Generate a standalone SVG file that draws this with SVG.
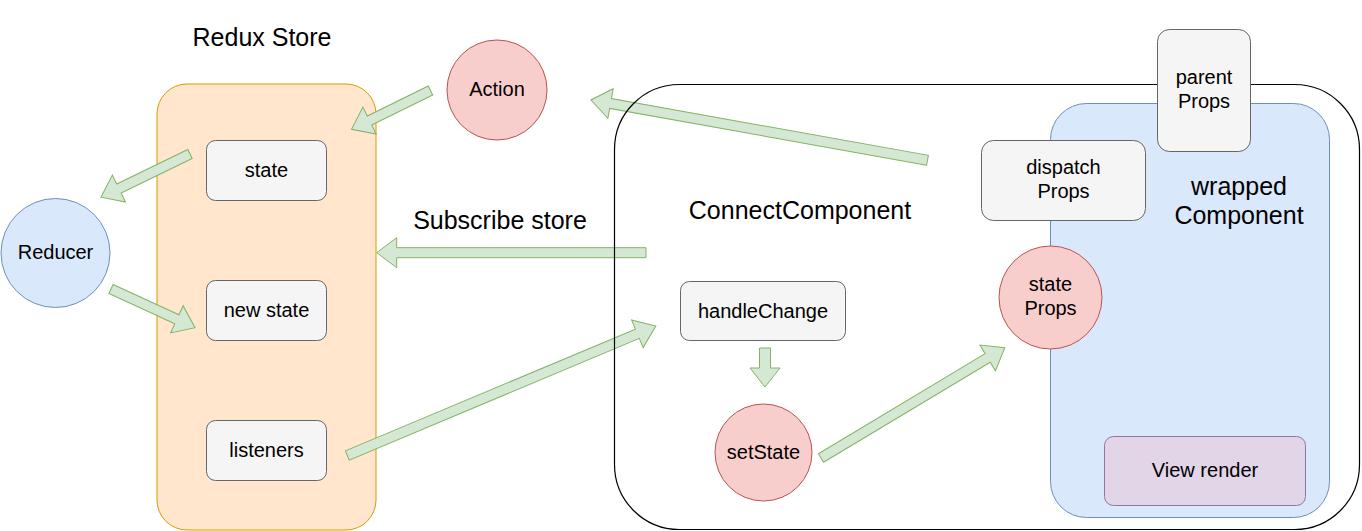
<svg xmlns="http://www.w3.org/2000/svg" width="1362" height="531" viewBox="0 0 1362 531">
<style>
text{font-family:"Liberation Sans",Arial,Helvetica,sans-serif;fill:#000;text-anchor:middle}
.t{font-size:20px}
.h{font-size:25px}
.box{fill:#f5f5f5;stroke:#666666;stroke-width:1}
.red{fill:#f8cecc;stroke:#b85450;stroke-width:1}
.blue{fill:#dae8fc;stroke:#6c8ebf;stroke-width:1}
.arr{fill:#d5e8d4;stroke:#82b366;stroke-width:1;stroke-linejoin:miter}
</style>
<rect width="1362" height="531" fill="#ffffff"/>
<g id="redux-store">
<rect x="157" y="84" width="219" height="446" rx="30" ry="30" fill="#ffe6cc" stroke="#d79b00" stroke-width="1"/>
<text class="h" x="262" y="46">Redux Store</text>
</g>
<g id="state"><rect class="box" x="206.5" y="140.5" width="120" height="60" rx="9"/><text class="t" x="266.5" y="177">state</text></g>
<g id="new-state"><rect class="box" x="206.5" y="280.5" width="120" height="60" rx="9"/><text class="t" x="266.5" y="317">new state</text></g>
<g id="listeners"><rect class="box" x="206.5" y="420.5" width="120" height="60" rx="9"/><text class="t" x="266.5" y="457">listeners</text></g>
<g id="reducer"><circle class="blue" cx="55.5" cy="253" r="54.5"/><text class="t" x="55.5" y="259">Reducer</text></g>
<g id="action"><circle class="red" cx="497" cy="90" r="50"/><text class="t" x="497" y="96">Action</text></g>
<g id="subscribe-label"><text class="h" x="500" y="229">Subscribe store</text></g>
<g id="connectors">
<path class="arr" transform="translate(430.5,90.5) rotate(153.8)" d="M0,-5 H68 V-15 L88,0 L68,15 V5 H0 Z"/>
<path class="arr" transform="translate(190,154) rotate(154.1)" d="M0,-5 H79 V-15 L99,0 L79,15 V5 H0 Z"/>
<path class="arr" transform="translate(111,289) rotate(24.7)" d="M0,-5 H72.5 V-15 L92.5,0 L72.5,15 V5 H0 Z"/>
<path class="arr" transform="translate(646,252.7) rotate(180)" d="M0,-5 H249.3 V-15 L269.3,0 L249.3,15 V5 H0 Z"/>
<path class="arr" transform="translate(927.5,160.3) rotate(-169.84)" d="M0,-5 H322 V-15 L342,0 L322,15 V5 H0 Z"/>
<path class="arr" transform="translate(347.3,455.5) rotate(-22.77)" d="M0,-5 H314.6 V-15 L334.6,0 L314.6,15 V5 H0 Z"/>
<path class="arr" transform="translate(765,348) rotate(90)" d="M0,-5.5 H20 V-15 L39,0 L20,15 V5.5 H0 Z"/>
<path class="arr" transform="translate(821,458) rotate(-30.97)" d="M0,-5 H194.4 V-15 L214.4,0 L194.4,15 V5 H0 Z"/>
</g>
<g id="connect-component">
<rect x="614.5" y="84.5" width="745" height="445" rx="65" ry="65" fill="none" stroke="#000000" stroke-width="1.2"/>
<text class="h" x="800" y="219">ConnectComponent</text>
</g>
<g id="wrapped-component">
<rect class="blue" x="1050.5" y="103.5" width="279" height="414" rx="36" ry="36"/>
<text class="h" x="1239" y="195">wrapped</text>
<text class="h" x="1239" y="224">Component</text>
</g>
<g id="parent-props"><rect class="box" x="1157.5" y="29.5" width="93" height="122" rx="12"/><text class="t" x="1204" y="84">parent</text><text class="t" x="1204" y="108">Props</text></g>
<g id="dispatch-props"><rect class="box" x="981.5" y="140.5" width="164" height="80" rx="12"/><text class="t" x="1063.5" y="174">dispatch</text><text class="t" x="1063.5" y="198">Props</text></g>
<g id="state-props"><circle class="red" cx="1050.5" cy="297.5" r="51.5"/><text class="t" x="1050.5" y="291">state</text><text class="t" x="1050.5" y="315">Props</text></g>
<g id="handle-change"><rect class="box" x="680.5" y="281.5" width="165" height="59" rx="9"/><text class="t" x="763" y="318">handleChange</text></g>
<g id="set-state"><circle class="red" cx="763.5" cy="452.5" r="48.5"/><text class="t" x="763.5" y="459">setState</text></g>
<g id="view-render"><rect x="1104.5" y="436.5" width="201" height="69" rx="9" fill="#e1d5e7" stroke="#9673a6" stroke-width="1"/><text class="t" x="1205" y="477">View render</text></g>
</svg>
